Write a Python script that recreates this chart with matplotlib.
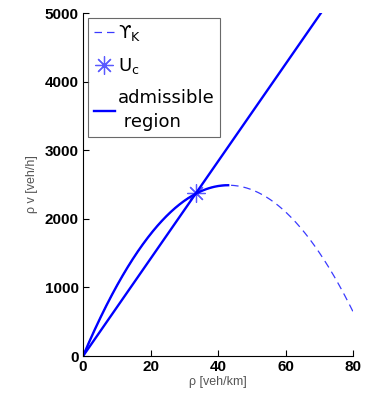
import numpy as np
import matplotlib
matplotlib.use("Agg")
import matplotlib.pyplot as plt

# Greenshields-type flux
v_free = 115.8      # km/h
rho_max = 86.0      # veh/km
rho_c = 33.5        # critical point U_c
flux_c = 2376.0
rho_peak = 43.0     # end of the solid part of the curve
y_top = 5000

x_ticks = [0, 20, 40, 60, 80]
y_ticks = [0, 1000, 2000, 3000, 4000, 5000]

rho = np.linspace(0, 80, 400)
flux = v_free * rho * (1 - rho / rho_max)

rho_adm = np.linspace(0, rho_peak, 200)
flux_adm = v_free * rho_adm * (1 - rho_adm / rho_max)
v_c = flux_c / rho_c
rho_line = np.array([0, y_top / v_c])

plt.rcParams['font.family'] = ['Liberation Sans', 'DejaVu Sans']

fig = plt.figure(figsize=(3.66, 4.03), dpi=100)
ax = fig.add_axes([0.227, 0.1166, 0.7375, 0.8511])

ax.plot(rho, flux, '--', color='#3a3aff', lw=0.9, dashes=(6, 4), label='ϒ$_\\mathrm{K}$')
ax.plot([rho_c], [flux_c], linestyle='none', color='#5a5aff', ms=13, mew=0.9,
        marker=(8, 2, 0), label='U$_\\mathrm{c}$')
ax.plot(rho_adm, flux_adm, '-', color='#0000ff', lw=1.7, label='admissible\n region')
ax.plot(rho_line, v_c * rho_line, '-', color='#0000ff', lw=1.7)

ax.set_xlim(0, 80)
ax.set_ylim(0, 5000)
ax.set_xticks(x_ticks)
ax.set_yticks(y_ticks)
ax.tick_params(direction='in', length=4, width=0.8, labelsize=11, pad=3)
for lab in ax.get_xticklabels() + ax.get_yticklabels():
    lab.set_fontweight('bold')
ax.spines['top'].set_visible(False)
ax.spines['right'].set_visible(False)

ax.set_xlabel('ρ [veh/km]', color='#555555', fontsize=9, labelpad=1)
ax.set_ylabel('ρ v [veh/h]', color='#555555', fontsize=9, labelpad=5)

leg = ax.legend(loc='upper left', prop={'family': 'DejaVu Sans', 'size': 13},
                frameon=True, fancybox=False, edgecolor='#444444',
                borderaxespad=0.28, handlelength=1.2, handletextpad=0.15,
                labelspacing=0.72, borderpad=0.3)
leg.get_frame().set_linewidth(0.8)
for t in leg.get_texts():
    t.set_linespacing(1.4)

fig.savefig('out.png', dpi=100)
